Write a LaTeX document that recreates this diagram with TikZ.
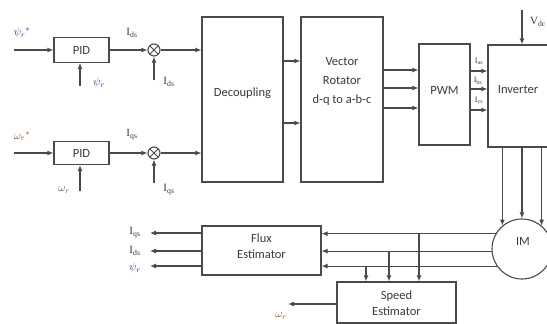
\documentclass[tikz,border=0pt]{standalone}
\usepackage{fontspec}
\setmainfont{Liberation Serif}
\newfontfamily\boxfont{Carlito}
\usetikzlibrary{arrows.meta,calc}
\definecolor{linegray}{HTML}{4A4A4A}
\definecolor{txtgray}{HTML}{3A3A3A}
\definecolor{lblblue}{HTML}{23358C}
\definecolor{lblbrown}{HTML}{8A4A22}
\definecolor{lbldark}{HTML}{3A3550}
\begin{document}
\begin{tikzpicture}[x=1pt,y=-1pt,color=linegray,line width=1.1pt,
  arr/.style={-{Latex[length=6pt,width=5pt]}},
  blk/.style={draw, inner sep=0pt},
  btxt/.style={font=\boxfont\fontsize{12.5}{15}\selectfont, text=txtgray, align=center, inner sep=0pt},
  lbl/.style={font=\fontsize{11}{12}\selectfont, text=lbldark, inner sep=0pt},
  slbl/.style={font=\fontsize{8}{9}\selectfont, text=lbldark, inner sep=0pt},
  sumnode/.style={draw, circle, minimum size=12pt, inner sep=0pt,
    path picture={\draw[line width=0.9pt] (path picture bounding box.north west) -- (path picture bounding box.south east)
      (path picture bounding box.north east) -- (path picture bounding box.south west);}}
]
\useasboundingbox (0,0) rectangle (547,324);
\clip (0,0) rectangle (547,324);

% blocks
\node[blk, minimum width=55pt, minimum height=25pt] (pid1) at (81.5,50) {};
\node[btxt] (pid1t) at (pid1.center) {PID};
\node[blk, minimum width=55pt, minimum height=23pt] (pid2) at (81.5,153) {};
\node[btxt] (pid2t) at (pid2.center) {PID};
\node[sumnode] (sum1) at (154,50) {};
\node[sumnode] (sum2) at (154,153) {};
\node[blk, minimum width=81pt, minimum height=165pt] (dec) at (242.5,99.5) {};
\node[btxt] (dect) at (242.5,93) {Decoupling};
\node[blk, minimum width=82pt, minimum height=165pt] (rot) at (342,99.5) {};
\node[btxt, font=\boxfont\fontsize{12.5}{19}\selectfont] (rott) at (342,81) {Vector\\Rotator\\d-q to a-b-c};
\node[blk, minimum width=51pt, minimum height=101pt] (pwm) at (444.5,94.5) {};
\node[btxt] (pwmt) at (444.5,90) {PWM};
\node[blk, minimum width=92pt, minimum height=102pt] (inv) at (534,96) {};
\node[btxt] (invt) at (518,90) {Inverter};
\node[draw, circle, minimum size=60pt, inner sep=0pt] (im) at (522,249) {};
\node[btxt] (imt) at (523,241) {IM};
\node[blk, minimum width=119pt, minimum height=49pt] (flux) at (261.5,250.5) {};
\node[btxt, font=\boxfont\fontsize{12.5}{16}\selectfont] (fluxt) at (261.5,246) {Flux\\Estimator};
\node[blk, minimum width=119pt, minimum height=41pt] (speed) at (396.5,302.5) {};
\node[btxt, font=\boxfont\fontsize{12.5}{16}\selectfont] (speedt) at (396.5,303.5) {Speed\\Estimator};

% top PID chain
\coordinate (in1) at (14,50);
\draw[arr] (in1) -- (in1 -| pid1.west);
\coordinate (fb1) at (80,86);
\draw[arr] (fb1) -- (fb1 |- pid1.south);
\draw[arr] (pid1.east) -- (sum1.west);
\coordinate (sf1) at (154,80);
\draw[arr] (sf1) -- (sum1.south);
\draw[arr] (sum1.east) -- (sum1.east -| dec.west);

% bottom PID chain
\coordinate (in2) at (14,153);
\draw[arr] (in2) -- (in2 -| pid2.west);
\coordinate (fb2) at (80,191);
\draw[arr] (fb2) -- (fb2 |- pid2.south);
\draw[arr] (pid2.east) -- (sum2.west);
\coordinate (sf2) at (154,183);
\draw[arr] (sf2) -- (sum2.south);
\draw[arr] (sum2.east) -- (sum2.east -| dec.west);

% decoupling -> rotator
\coordinate (dr1) at (290,61);
\coordinate (dr2) at (290,123);
\draw[arr] (dr1 -| dec.east) -- (dr1 -| rot.west);
\draw[arr] (dr2 -| dec.east) -- (dr2 -| rot.west);

% rotator -> pwm
\foreach \y/\n in {70/a,88/b,108/c}{
  \coordinate (rp\n) at (400,\y);
  \draw[arr] (rp\n -| rot.east) -- (rp\n -| pwm.west);
}
% pwm -> inverter
\foreach \y/\n in {71/a,89/b,110/c}{
  \coordinate (pi\n) at (480,\y);
  \draw[arr] (pi\n -| pwm.east) -- (pi\n -| inv.west);
}
% Vdc
\coordinate (vdc) at (522,10);
\draw[arr] (vdc) -- (vdc |- inv.north);

% inverter -> IM
\foreach \a in {130,90,50}{
  \draw[arr] (im.\a |- inv.south) -- (im.\a);
}
% IM -> flux estimator
\foreach \a in {150,184,214}{
  \draw[arr] (im.\a) -- (im.\a -| flux.east);
}
% taps to speed estimator
\coordinate (s1) at (419,282);
\coordinate (s2) at (389,282);
\coordinate (s3) at (366,282);
\draw[arr] (s1 |- im.150) -- (s1 |- speed.north);
\draw[arr] (s2 |- im.184) -- (s2 |- speed.north);
\draw[arr] (s3 |- im.214) -- (s3 |- speed.north);

% flux estimator outputs
\coordinate (o1) at (150,233);
\coordinate (o2) at (150,251);
\coordinate (o3) at (150,266);
\draw[arr] (o1 -| flux.west) -- (o1);
\draw[arr] (o2 -| flux.west) -- (o2);
\draw[arr] (o3 -| flux.west) -- (o3);

% speed estimator output
\coordinate (wo) at (288,304);
\draw[arr] (wo -| speed.west) -- (wo);

% labels
\node[lbl, text=lblblue] (l1) at (22,33) {$\psi_r{}^{*}$};
\node[lbl, text=lblblue] (l2) at (99,83) {$\psi_r$};
\node[lbl] (l3) at (132,33) {I\textsubscript{ds}};
\node[lbl] (l4) at (169,82) {I\textsubscript{ds}};
\node[lbl, text=lblbrown] (l5) at (22,136) {$\omega_r{}^{*}$};
\node[lbl, text=lblbrown] (l6) at (64,190) {$\omega_r$};
\node[lbl] (l7) at (132,135) {I\textsubscript{qs}};
\node[lbl] (l8) at (169,190) {I\textsubscript{qs}};
\node[slbl] (l9) at (479,61) {I\textsubscript{as}};
\node[slbl] (l10) at (478,81) {I\textsubscript{bs}};
\node[slbl] (l11) at (479,100) {I\textsubscript{cs}};
\node[lbl] (l12) at (538,22) {V\textsubscript{dc}};
\node[lbl] (l13) at (135,233) {I\textsubscript{qs}};
\node[lbl] (l14) at (135,251) {I\textsubscript{ds}};
\node[lbl, text=lblblue] (l15) at (135,268) {$\psi_r$};
\node[lbl, text=lblbrown] (l16) at (281,316) {$\omega_r$};
\end{tikzpicture}
\end{document}
